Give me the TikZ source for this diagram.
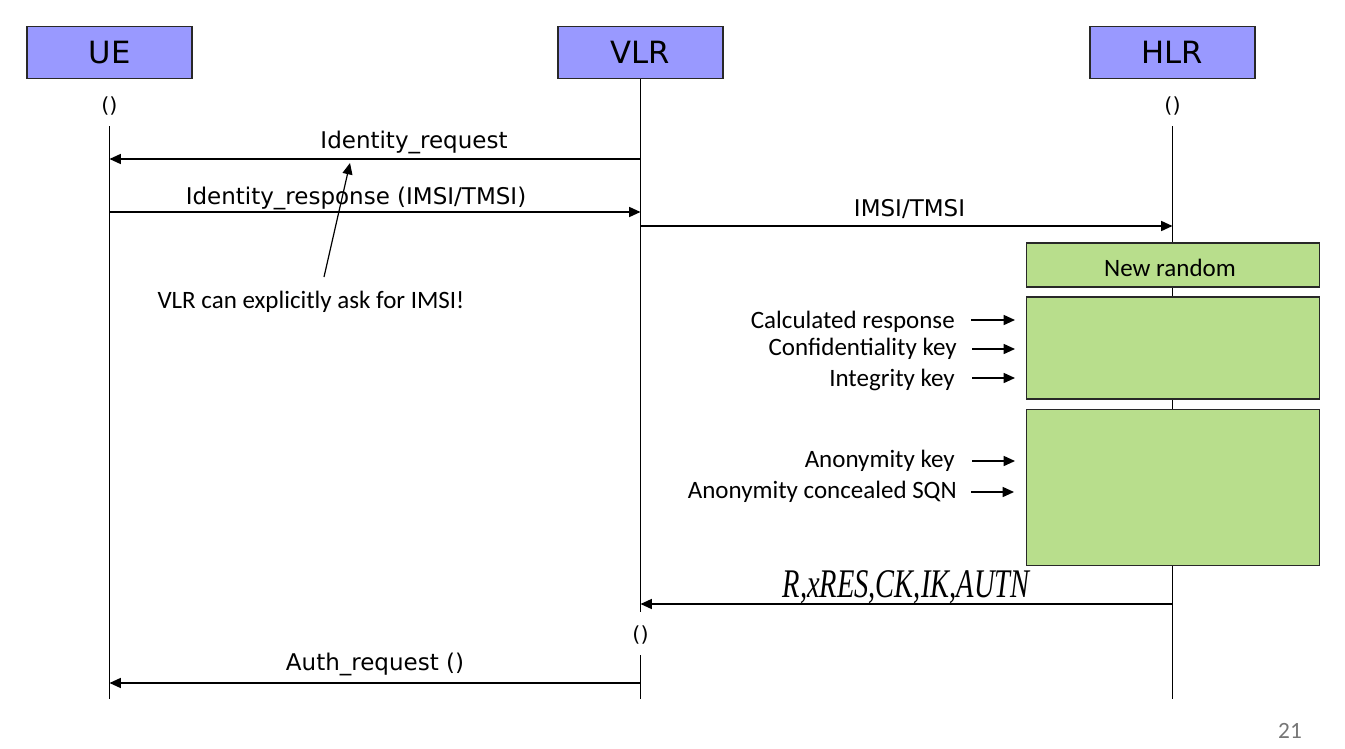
\documentclass[tikz,border=0pt]{standalone}
\usepackage{fontspec}
\setmainfont{DejaVu Sans}
\newfontfamily\calfont{Carlito}
\newfontfamily\serfont{Liberation Serif}
\usetikzlibrary{arrows.meta}
\definecolor{headblue}{RGB}{153,153,255}
\definecolor{boxgreen}{RGB}{184,222,140}
\definecolor{pagegray}{RGB}{118,118,118}
\definecolor{edgegray}{RGB}{40,40,40}
\tikzset{
  head/.style={draw=edgegray, line width=1.3pt, fill=headblue, minimum width=123.75pt, minimum height=39pt, inner sep=0pt, font=\fontsize{23pt}{26pt}\selectfont},
  paren/.style={inner sep=0pt, font=\fontsize{15.5pt}{18pt}\selectfont},
  life/.style={draw=black, line width=0.8pt},
  msg/.style={draw=black, line width=1.1pt, -{Triangle[length=8.5pt,width=7.5pt]}},
  msglabel/.style={anchor=base, inner sep=0pt, font=\fontsize{17.25pt}{20pt}\selectfont},
  mathlabel/.style={anchor=base, inner sep=0pt, xscale=0.70, font=\serfont\itshape\fontsize{30.5pt}{34pt}\selectfont},
  gbox/.style={draw=edgegray, line width=1.3pt, fill=boxgreen, minimum width=219.75pt, inner sep=0pt, font=\calfont\fontsize{18.75pt}{22pt}\selectfont},
  sidelabel/.style={anchor=base east, inner sep=0pt, font=\calfont\fontsize{18.75pt}{22pt}\selectfont},
  sarrow/.style={draw=black, line width=1.1pt, -{Triangle[length=8.5pt,width=7.5pt]}},
  anno/.style={anchor=base, inner sep=0pt, font=\calfont\fontsize{18.75pt}{22pt}\selectfont},
  pagenum/.style={anchor=base, inner sep=0pt, text=pagegray, font=\calfont\fontsize{17.5pt}{20pt}\selectfont}
}
\begin{document}
\begin{tikzpicture}[x=0.75pt,y=-0.75pt]
\useasboundingbox (0,0) rectangle (1345,749);

% heads
\node[head] (ue) at (109.5,52.5) {UE};
\node[head] (vlr) at (640.5,52.5) {VLR};
\node[head] (hlr) at (1172.5,52.5) {HLR};

% lifeline markers
\node[paren] (uep) at (109.5,106) {()};
\node[paren] (hlrp) at (1172.5,106) {()};
\node[paren] (vlrp) at (640.5,635) {()};

\coordinate (uetop) at (109.5,126);
\coordinate (ueend) at (109.5,699);
\coordinate (hlrtop) at (1172.5,126);
\coordinate (hlrend) at (1172.5,699);
\coordinate (vlrmid) at (640.5,612);
\coordinate (vlrmid2) at (640.5,655);
\coordinate (vlrend) at (640.5,699);

\draw[life] (uetop) -- (ueend);
\draw[life] (hlrtop) -- (hlrend);
\draw[life] (vlr.south) -- (vlrmid);
\draw[life] (vlrmid2) -- (vlrend);

% message endpoints
\coordinate (v1) at (640.5,159);
\coordinate (u1) at (109.5,159);
\coordinate (u2) at (109.5,212);
\coordinate (v2) at (640.5,212);
\coordinate (v3) at (640.5,226);
\coordinate (h3) at (1172.5,226);
\coordinate (h4) at (1172.5,604);
\coordinate (v4) at (640.5,604);
\coordinate (v5) at (640.5,683);
\coordinate (u5) at (109.5,683);

\draw[msg] (v1) -- (u1);
\node[msglabel] (l1) at (414,148) {Identity\_request};
\draw[msg] (u2) -- (v2);
\node[msglabel] (l2) at (356,204) {Identity\_response (IMSI/TMSI)};
\draw[msg] (v3) -- (h3);
\node[msglabel] (l3) at (909.5,216) {IMSI/TMSI};
\draw[msg] (h4) -- (v4);
\node[mathlabel] (l4) at (906,597) {R,xRES,CK,IK,AUTN};
\draw[msg] (v5) -- (u5);
\node[msglabel] (l5) at (375,670) {Auth\_request ()};

% green boxes
\node[gbox, minimum height=33pt] (nr) at (1173,265) {};
\node[anno] (nrt) at (1170,276) {New random};
\node[gbox, minimum height=76.5pt] (kb) at (1173,348) {};
\node[gbox, minimum height=117pt] (ab) at (1173,487.5) {};

% side labels
\node[sidelabel] (s1) at (955,328) {Calculated response};
\node[sidelabel] (s2) at (957,355) {Confidentiality key};
\node[sidelabel] (s3) at (955,386) {Integrity key};
\node[sidelabel] (s4) at (955,467) {Anonymity key};
\node[sidelabel] (s5) at (957,498) {Anonymity concealed SQN};

\coordinate (a1s) at (971,320); \coordinate (a1e) at (1015,320);
\coordinate (a2s) at (972,349); \coordinate (a2e) at (1015,349);
\coordinate (a3s) at (972,378); \coordinate (a3e) at (1015,378);
\coordinate (a4s) at (972,461); \coordinate (a4e) at (1015,461);
\coordinate (a5s) at (971,492); \coordinate (a5e) at (1014,492);
\draw[sarrow] (a1s) -- (a1e);
\draw[sarrow] (a2s) -- (a2e);
\draw[sarrow] (a3s) -- (a3e);
\draw[sarrow] (a4s) -- (a4e);
\draw[sarrow] (a5s) -- (a5e);

% annotation
\node[anno] (note) at (311,308) {VLR can explicitly ask for IMSI!};
\coordinate (notetip) at (350,163);
\coordinate (notebase) at (324,277);
\draw[sarrow, line width=0.9pt] (notebase) -- (notetip);

% page number
\node[pagenum] (pg) at (1290,738) {21};
\end{tikzpicture}
\end{document}
